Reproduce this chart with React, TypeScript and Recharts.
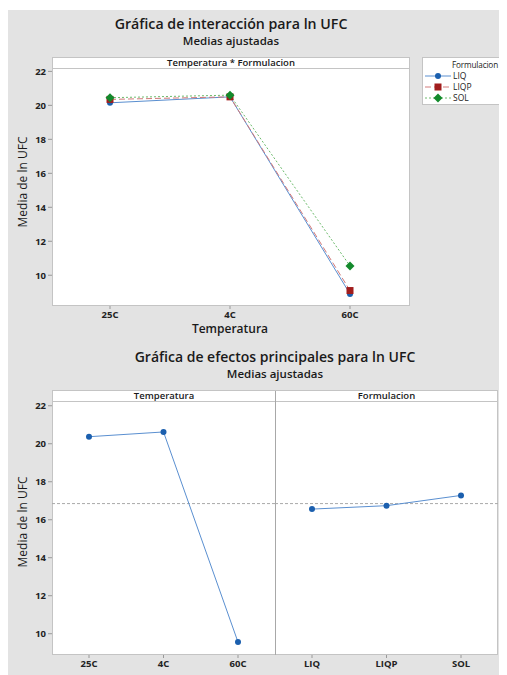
import React from "react";
import { LineChart, Line, XAxis, YAxis, ReferenceLine } from "recharts";

// Medias ajustadas de ln UFC por combinación Temperatura * Formulacion
const temperaturas = ["25C", "4C", "60C"];
const formulaciones = ["LIQ", "LIQP", "SOL"];
const mediasLIQ = [20.15, 20.5, 8.9];
const mediasLIQP = [20.35, 20.5, 9.1];
const mediasSOL = [20.45, 20.6, 10.55];

// Efectos principales
const efectoTemperatura = [20.37, 20.62, 9.56];
const efectoFormulacion = [16.56, 16.74, 17.28];
const mediaGeneral = 16.85;

const ticksY = [10, 12, 14, 16, 18, 20, 22];

const FONT = "'Open Sans', 'Noto Sans', sans-serif";
const GRIS = "#e3e3e3";
const BORDE = "#c4c4c4";

const interaccion = temperaturas.map((t, i) => ({
  temp: t,
  LIQ: mediasLIQ[i],
  LIQP: mediasLIQP[i],
  SOL: mediasSOL[i],
}));
const datosTemp = temperaturas.map((t, i) => ({ nivel: t, media: efectoTemperatura[i] }));
const datosForm = formulaciones.map((f, i) => ({ nivel: f, media: efectoFormulacion[i] }));

const series = [
  { key: "LIQ", line: "#5a8fd0", mark: "#1b5fae", dash: undefined, shape: "circle" },
  { key: "LIQP", line: "#d27a7a", mark: "#a11d1d", dash: "6 3", shape: "square" },
  { key: "SOL", line: "#6dbb6d", mark: "#138a2c", dash: "2 2", shape: "diamond" },
];

function Marker({ cx, cy, shape, color }: any) {
  if (cx == null || cy == null) return null;
  if (shape === "square")
    return <rect x={cx - 3.5} y={cy - 3.5} width={7} height={7} fill={color} />;
  if (shape === "diamond")
    return (
      <polygon
        points={`${cx},${cy - 4.5} ${cx + 4.5},${cy} ${cx},${cy + 4.5} ${cx - 4.5},${cy}`}
        fill={color}
      />
    );
  return <circle cx={cx} cy={cy} r={3} fill={color} />;
}

const tickStyle = { fontSize: 9.5, fontWeight: 700, fill: "#222", fontFamily: FONT };

const abs = (left: number, top: number, extra: React.CSSProperties = {}): React.CSSProperties => ({
  position: "absolute",
  left,
  top,
  ...extra,
});

function Titulo({ x, y, text, size, weight }: any) {
  return (
    <div
      style={abs(x - 200, y, {
        width: 400,
        textAlign: "center",
        fontSize: size,
        fontWeight: weight,
        lineHeight: 1,
        color: "#1a1a1a",
        whiteSpace: "nowrap",
      })}
    >
      {text}
    </div>
  );
}

function EtiquetaY({ cx, cy }: any) {
  return (
    <div
      style={abs(cx - 60, cy - 7, {
        width: 120,
        textAlign: "center",
        fontSize: 12,
        lineHeight: "14px",
        fontWeight: 500,
        color: "#1a1a1a",
        transform: "rotate(-90deg)",
        whiteSpace: "nowrap",
      })}
    >
      Media de ln UFC
    </div>
  );
}

function Leyenda() {
  return (
    <div
      style={abs(414, 47, {
        width: 84,
        height: 46,
        background: "#fff",
        border: `1px solid ${BORDE}`,
        borderRight: "none",
        fontSize: 8.5,
        color: "#222",
        lineHeight: 1,
      })}
    >
      <div style={abs(29, 3, { whiteSpace: "nowrap", fontSize: 8.2, letterSpacing: -0.15 })}>Formulacion</div>
      {series.map((s, i) => (
        <div key={s.key} style={abs(2, 13 + i * 11, { display: "flex", alignItems: "center", height: 10 })}>
          <svg width={26} height={10}>
            <line x1={0} y1={5} x2={26} y2={5} stroke={s.line} strokeWidth={1} strokeDasharray={s.dash} />
            <Marker cx={13} cy={5} shape={s.shape} color={s.mark} />
          </svg>
          <span style={{ marginLeft: 2 }}>{s.key}</span>
        </div>
      ))}
    </div>
  );
}

export default function App() {
  return (
    <div
      style={{
        position: "relative",
        width: 499,
        height: 665,
        marginTop: 2,
        background: GRIS,
        fontFamily: FONT,
        overflow: "hidden",
      }}
    >
      {/* Gráfica de interacción */}
      <Titulo x={223} y={7} text="Gráfica de interacción para ln UFC" size={14.2} weight={600} />
      <Titulo x={223} y={25} text="Medias ajustadas" size={11.5} weight={600} />

      <div style={abs(44, 47, { width: 356, height: 247, background: "#fff", border: `1px solid ${BORDE}` })} />
      <div
        style={abs(45, 48, {
          width: 356,
          height: 10,
          borderBottom: `1px solid ${BORDE}`,
          textAlign: "center",
          fontSize: 9.5,
          fontWeight: 600,
          lineHeight: "10px",
          color: "#1a1a1a",
        })}
      >
        Temperatura * Formulacion
      </div>

      <div style={abs(0, 0)}>
        <LineChart width={499} height={330} data={interaccion} margin={{ top: 59, right: 97, bottom: 14, left: 14 }}>
          <XAxis
            dataKey="temp"
            padding={{ left: 58, right: 60 }}
            axisLine={false}
            tickLine={{ stroke: "#999" }}
            tickSize={3}
            height={20}
            tick={tickStyle}
          />
          <YAxis
            domain={[8.19, 22.14]}
            ticks={ticksY}
            allowDataOverflow
            axisLine={false}
            tickLine={{ stroke: "#999" }}
            tickSize={4}
            width={30}
            tick={tickStyle}
          />
          {series.map((s) => (
            <Line
              key={s.key}
              dataKey={s.key}
              stroke={s.line}
              strokeWidth={1}
              strokeDasharray={s.dash}
              isAnimationActive={false}
              dot={(p: any) => <Marker key={`${s.key}-${p.index}`} cx={p.cx} cy={p.cy} shape={s.shape} color={s.mark} />}
              activeDot={false}
            />
          ))}
        </LineChart>
      </div>

      <EtiquetaY cx={15} cy={172} />
      <Titulo x={222} y={313} text="Temperatura" size={12} weight={600} />
      <Leyenda />

      {/* Gráfica de efectos principales */}
      <Titulo x={267} y={340} text="Gráfica de efectos principales para ln UFC" size={14} weight={600} />
      <Titulo x={267} y={358} text="Medias ajustadas" size={11.5} weight={600} />

      <div style={abs(44, 380, { width: 444, height: 263, background: "#fff", border: `1px solid ${BORDE}` })} />
      <div style={abs(267, 381, { width: 1, height: 264, background: "#a8a8a8" })} />
      {["Temperatura", "Formulacion"].map((t, i) => (
        <div
          key={t}
          style={abs(45 + i * 223, 381, {
            width: i === 0 ? 222 : 221,
            height: 10,
            borderBottom: `1px solid ${BORDE}`,
            textAlign: "center",
            fontSize: 9.5,
            fontWeight: 600,
            lineHeight: "10px",
            color: "#1a1a1a",
          })}
        >
          {t}
        </div>
      ))}

      <div style={abs(0, 330)}>
        <LineChart width={267} height={335} data={datosTemp} margin={{ top: 61, right: 0, bottom: 4, left: 14 }}>
          <XAxis
            dataKey="nivel"
            padding={{ left: 37, right: 37 }}
            axisLine={false}
            tickLine={{ stroke: "#999" }}
            tickSize={3}
            height={16}
            tick={tickStyle}
          />
          <YAxis
            domain={[8.88, 22.25]}
            ticks={ticksY}
            allowDataOverflow
            axisLine={false}
            tickLine={{ stroke: "#999" }}
            tickSize={4}
            width={30}
            tick={tickStyle}
          />
          <ReferenceLine y={mediaGeneral} stroke="#aaa" strokeDasharray="3 2" />
          <Line
            dataKey="media"
            stroke="#5a8fd0"
            strokeWidth={1}
            isAnimationActive={false}
            dot={(p: any) => <Marker key={p.index} cx={p.cx} cy={p.cy} shape="circle" color="#1b5fae" />}
            activeDot={false}
          />
        </LineChart>
      </div>

      <div style={abs(267, 330)}>
        <LineChart width={232} height={335} data={datosForm} margin={{ top: 61, right: 9, bottom: 4, left: 0 }}>
          <XAxis
            dataKey="nivel"
            padding={{ left: 37, right: 37 }}
            axisLine={false}
            tickLine={{ stroke: "#999" }}
            tickSize={3}
            height={16}
            tick={tickStyle}
          />
          <YAxis hide domain={[8.88, 22.25]} ticks={ticksY} allowDataOverflow />
          <ReferenceLine y={mediaGeneral} stroke="#aaa" strokeDasharray="3 2" />
          <Line
            dataKey="media"
            stroke="#5a8fd0"
            strokeWidth={1}
            isAnimationActive={false}
            dot={(p: any) => <Marker key={p.index} cx={p.cx} cy={p.cy} shape="circle" color="#1b5fae" />}
            activeDot={false}
          />
        </LineChart>
      </div>

      <EtiquetaY cx={15} cy={512} />
    </div>
  );
}
